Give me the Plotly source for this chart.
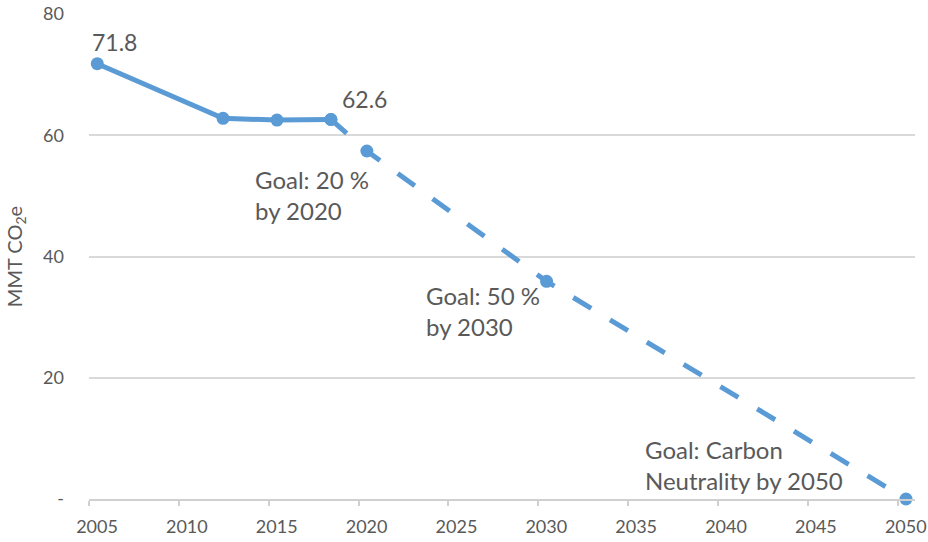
import plotly.graph_objects as go

# Data
hist_years = [2005, 2012, 2015, 2018]
hist_values = [71.8, 62.8, 62.5, 62.6]
goal_years = [2018, 2020, 2030, 2050]
goal_values = [62.6, 57.4, 35.9, 0]
x_tick_years = [2005, 2010, 2015, 2020, 2025, 2030, 2035, 2040, 2045, 2050]
y_tick_vals = [0, 20, 40, 60, 80]
y_tick_text = ["-", "20", "40", "60", "80"]
goal_notes = ["Goal: 20 %<br>by 2020", "Goal: 50 %<br>by 2030", "Goal: Carbon<br>Neutrality by 2050"]

BLUE = "#5b9bd5"
TEXT = "#595959"
FONT = "Lato"

fig = go.Figure()
fig.add_trace(go.Scatter(
    x=goal_years, y=goal_values, mode="lines+markers",
    line=dict(color=BLUE, width=5, dash="21px,22px"),
    marker=dict(color=BLUE, size=13), hoverinfo="skip", cliponaxis=False,
))
fig.add_trace(go.Scatter(
    x=hist_years, y=hist_values, mode="lines+markers",
    line=dict(color=BLUE, width=5),
    marker=dict(color=BLUE, size=13), hoverinfo="skip", cliponaxis=False,
))

tick_offset = 0.46
annotations = [
    dict(x=hist_years[0], y=hist_values[0], text=f"{hist_values[0]:.1f}",
         xanchor="left", yanchor="bottom", xshift=-7, yshift=6,
         showarrow=False, font=dict(family=FONT, size=23, color=TEXT)),
    dict(x=hist_years[-1], y=hist_values[-1], text=f"{hist_values[-1]:.1f}",
         xanchor="left", yanchor="bottom", xshift=9, yshift=4,
         showarrow=False, font=dict(family=FONT, size=23, color=TEXT)),
]
note_pos = [(2013.64, 55.4), (2023.17, 36.3), (2035.35, 10.9)]
for (nx, ny), txt in zip(note_pos, goal_notes):
    annotations.append(dict(x=nx, y=ny, text=txt, xanchor="left", yanchor="top",
                            align="left", showarrow=False,
                            font=dict(family=FONT, size=24, color=TEXT)))

fig.update_layout(
    width=928, height=542,
    margin=dict(l=89, r=13, t=14, b=43, autoexpand=False),
    paper_bgcolor="white", plot_bgcolor="white",
    showlegend=False,
    font=dict(family=FONT, color=TEXT, size=18),
    annotations=annotations,
    xaxis=dict(
        automargin=False,
        range=[2005 - tick_offset, 2050 + 0.5],
        tickvals=[y - tick_offset for y in x_tick_years],
        ticktext=[str(y) for y in x_tick_years],
        ticklabelshift=8,
        ticklabelstandoff=6,
        showgrid=False, zeroline=False,
        showline=True, linecolor="#d0d0d0", linewidth=1.5,
        ticks="outside", ticklen=5, tickcolor="#d0d0d0", tickwidth=1.5,
        tickfont=dict(family=FONT, size=18, color=TEXT),
    ),
    yaxis=dict(
        automargin=False,
        range=[0, 80],
        tickvals=y_tick_vals, ticktext=y_tick_text,
        showgrid=True, gridcolor="#d9d9d9", gridwidth=1.5,
        zeroline=False, showline=False, ticks="",
        ticklabelstandoff=24,
        tickfont=dict(family=FONT, size=18, color=TEXT),
        title=dict(text="MMT CO<sub>2</sub>e", font=dict(family=FONT, size=20, color=TEXT),
                   standoff=15),
    ),
)

fig.write_html("out.html", config={"displayModeBar": False},
               post_script="document.body.style.margin='0';document.body.style.overflow='hidden';")
